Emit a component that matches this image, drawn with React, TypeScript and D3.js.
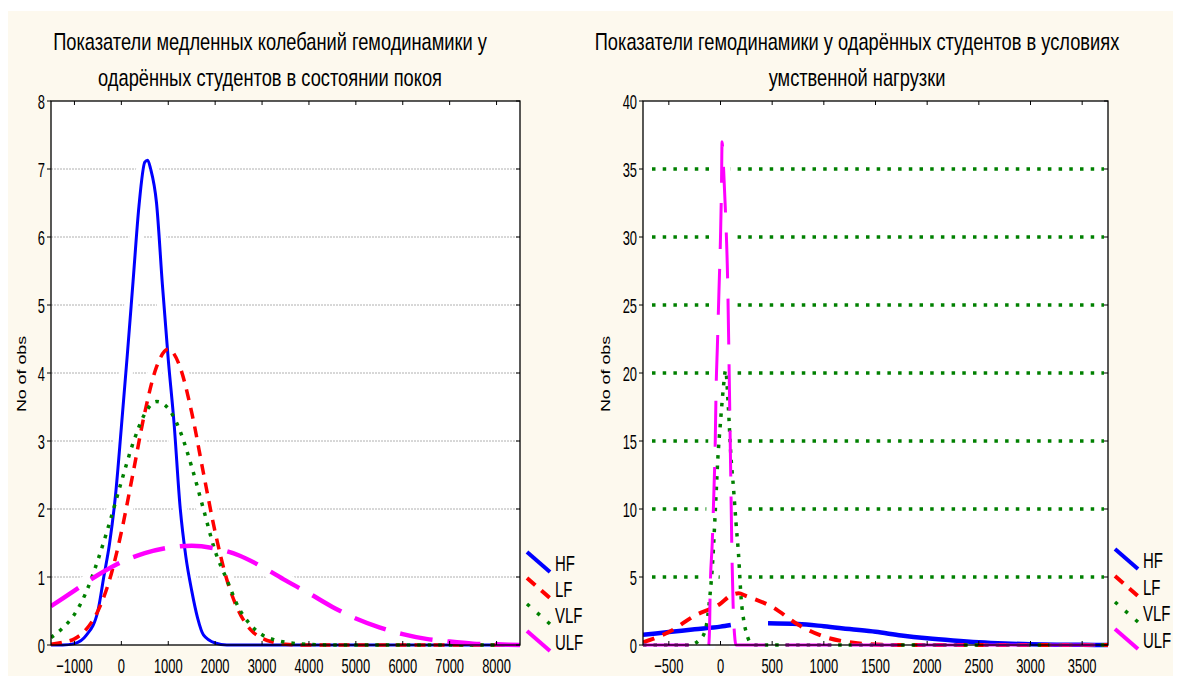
import { useRef, useEffect } from "react";
import * as d3 from "d3";

type Pt = [number, number | null];

// --- rest state (left chart) ---
const restHF: Pt[] = [
  [-1500, 0], [-1250, 0], [-1000, 0.02], [-750, 0.14], [-500, 0.5], [-375, 1.0], [-250, 1.5],
  [-125, 2.2], [0, 3.2], [125, 4.25], [250, 5.35], [375, 6.45], [500, 7.1], [560, 7.13],
  [625, 7.0], [750, 6.5], [875, 5.3], [1000, 4.2], [1125, 3.25], [1250, 2.05], [1375, 1.3],
  [1500, 0.8], [1625, 0.4], [1750, 0.15], [2000, 0.03], [2250, 0], [8500, 0],
];
const restLF: Pt[] = [
  [-1500, 0.01], [-1250, 0.04], [-1000, 0.09], [-750, 0.23], [-500, 0.5], [-250, 0.96],
  [0, 1.66], [250, 2.53], [500, 3.42], [750, 4.09], [1000, 4.35], [1250, 4.09], [1500, 3.42],
  [1750, 2.53], [2000, 1.66], [2250, 0.96], [2500, 0.5], [2750, 0.23], [3000, 0.1],
  [3250, 0.04], [3500, 0.01], [4000, 0], [8500, 0],
];
const restVLF: Pt[] = [
  [-1500, 0.11], [-1250, 0.25], [-1000, 0.45], [-750, 0.78], [-500, 1.25], [-250, 1.8],
  [0, 2.4], [250, 2.97], [500, 3.4], [750, 3.58], [1000, 3.48], [1250, 3.15], [1500, 2.62],
  [1750, 2.0], [2000, 1.38], [2250, 0.96], [2500, 0.55], [2750, 0.3], [3000, 0.15],
  [3250, 0.08], [3500, 0.04], [3750, 0.02], [4000, 0.01], [4500, 0], [8500, 0],
];
const restULF: Pt[] = [
  [-1500, 0.57], [-1000, 0.8], [-500, 1.03], [0, 1.22], [500, 1.35], [1000, 1.43],
  [1500, 1.46], [2000, 1.42], [2500, 1.32], [3000, 1.15], [3500, 0.95], [4000, 0.76],
  [4500, 0.56], [5000, 0.39], [5500, 0.26], [6000, 0.16], [6500, 0.09], [7000, 0.05],
  [7500, 0.02], [8000, 0.01], [8500, 0],
];

// --- mental load (right chart) ---
const loadHF: Pt[] = [
  [-750, 0.75], [-500, 0.95], [-250, 1.15], [0, 1.35], [100, 1.47], [150, null], [450, null],
  [460, 1.6], [750, 1.55], [1000, 1.38], [1250, 1.17], [1500, 0.97], [1750, 0.7], [2000, 0.49],
  [2250, 0.33], [2500, 0.2], [2750, 0.11], [3000, 0.05], [3250, 0.02], [3500, 0.01], [3750, 0],
];
const loadLF: Pt[] = [
  [-750, 0.2], [-500, 0.95], [-250, 2.15], [0, 3.05], [100, 3.65], [175, 3.8], [250, 3.6],
  [500, 2.8], [750, 1.5], [1000, 0.62], [1250, 0.2], [1500, 0.04], [1750, 0], [3750, 0],
];
const loadVLF: Pt[] = [
  [-750, 0], [-300, 0], [-200, 0.4], [-150, 1.0], [-100, 3.8], [-75, 6.2], [-50, 9.9],
  [-25, 13.8], [0, 16.4], [25, 18.7], [50, 20.2], [75, 17.6], [100, 14.0], [125, 11.6],
  [150, 9.0], [175, 6.6], [200, 3.4], [225, 1.8], [250, 0.9], [300, 0.1], [350, 0], [3750, 0],
];
const loadULF: Pt[] = [
  [-750, 0], [-115, 0], [-105, 1.5], [-100, 4], [-80, 7.5], [-65, 11], [-52, 14.5], [-42, 19],
  [-30, 22], [-15, 26], [0, 30], [10, 34], [15, 37], [30, 35], [50, 31.5], [70, 26.5],
  [80, 22], [90, 17], [100, 12], [110, 7], [122, 3], [140, 0.4], [150, 0], [3750, 0],
];

const restXTicks = [-1000, 0, 1000, 2000, 3000, 4000, 5000, 6000, 7000, 8000];
const restYTicks = [0, 1, 2, 3, 4, 5, 6, 7, 8];
const loadXTicks = [-500, 0, 500, 1000, 1500, 2000, 2500, 3000, 3500];
const loadYTicks = [0, 5, 10, 15, 20, 25, 30, 35, 40];

const seriesNames = ["HF", "LF", "VLF", "ULF"];
const seriesColors = ["#0000FF", "#FF0000", "#008000", "#FF00FF"];

const restTitle = ["Показатели медленных колебаний гемодинамики у", "одарённых студентов в состоянии покоя"];
const loadTitle = ["Показатели гемодинамики у одарённых студентов в условиях", "умственной нагрузки"];
const yLabel = "No of obs";

const FONT = "'Liberation Sans', Arial, sans-serif";

interface Panel {
  title: string[];
  titleX: number;
  left: number;
  right: number;
  top: number;
  bottom: number;
  xDomain: [number, number];
  yDomain: [number, number];
  xTicks: number[];
  yTicks: number[];
  series: Pt[][];
  widths: number[];
  dashes: (string | null)[];
  grid: "gray" | "green";
  legendX: number;
  legendBase: number[];
  yLabelX: number;
}

const panels: Panel[] = [
  {
    title: restTitle, titleX: 270,
    left: 51, right: 520, top: 101, bottom: 645,
    xDomain: [-1500, 8500], yDomain: [0, 8],
    xTicks: restXTicks, yTicks: restYTicks,
    series: [restHF, restLF, restVLF, restULF],
    widths: [3, 3.5, 3.5, 4.5],
    dashes: [null, "11 8", "3.5 7", "33 15"],
    grid: "gray",
    legendX: 527, legendBase: [571, 597, 623, 650],
    yLabelX: 26,
  },
  {
    title: loadTitle, titleX: 857,
    left: 643, right: 1108, top: 101, bottom: 645,
    xDomain: [-750, 3750], yDomain: [0, 40],
    xTicks: loadXTicks, yTicks: loadYTicks,
    series: [loadHF, loadLF, loadVLF, loadULF],
    widths: [4.5, 4, 3.5, 3],
    dashes: [null, "12 9", "3.5 7", "46 20"],
    grid: "green",
    legendX: 1115, legendBase: [568, 595, 621, 648],
    yLabelX: 610,
  },
];

function addText(g: any, x: number, y: number, s: string, size: number, sx: number, anchor = "middle") {
  return g.append("text")
    .attr("transform", `translate(${x},${y}) scale(${sx},1)`)
    .attr("text-anchor", anchor)
    .attr("fill", "#000")
    .style("font-family", FONT)
    .style("font-size", `${size}px`)
    .text(s);
}

export default function App() {
  const svgRef = useRef<SVGSVGElement>(null);

  useEffect(() => {
    if (!svgRef.current) return;
    const svg = d3.select(svgRef.current);
    svg.selectAll("*").remove();

    svg.append("rect").attr("width", 1181).attr("height", 680).attr("fill", "#fff");
    svg.append("rect").attr("x", 8).attr("y", 11).attr("width", 1165).attr("height", 665).attr("fill", "#FDF9EE");

    const titleNodes: any[] = [];

    panels.forEach((p, idx) => {
      const x = d3.scaleLinear().domain(p.xDomain).range([p.left, p.right]);
      const y = d3.scaleLinear().domain(p.yDomain).range([p.bottom, p.top]);
      const g = svg.append("g");

      g.append("rect")
        .attr("x", p.left).attr("y", p.top)
        .attr("width", p.right - p.left).attr("height", p.bottom - p.top)
        .attr("fill", "#fff");

      const clipId = `plotclip${idx}`;
      g.append("clipPath").attr("id", clipId)
        .append("rect")
        .attr("x", p.left).attr("y", p.top)
        .attr("width", p.right - p.left).attr("height", p.bottom - p.top + 4);

      // grid lines
      const gridVals = p.yTicks.filter((v) => v > p.yDomain[0] && v < p.yDomain[1]);
      if (p.grid === "gray") {
        g.selectAll(".grid").data(gridVals).join("line")
          .attr("x1", p.left).attr("x2", p.right)
          .attr("y1", (d) => y(d)).attr("y2", (d) => y(d))
          .attr("stroke", "#b0b0b0").attr("stroke-width", 1)
          .attr("stroke-dasharray", "2 1");
      } else {
        g.selectAll(".grid").data(gridVals).join("line")
          .attr("x1", p.left + 9).attr("x2", p.right - 4)
          .attr("y1", (d) => y(d)).attr("y2", (d) => y(d))
          .attr("stroke", "#008000").attr("stroke-width", 3.5)
          .attr("stroke-dasharray", "3.5 7.2");
      }

      const line = d3.line<Pt>()
        .defined((d) => d[1] != null)
        .x((d) => x(d[0]))
        .y((d) => y(d[1] as number))
        .curve(d3.curveMonotoneX);

      const plot = g.append("g").attr("clip-path", `url(#${clipId})`);

      // white halos, like the source software leaves behind each curve
      p.series.forEach((s) => {
        plot.append("path").datum(s)
          .attr("d", line as any)
          .attr("fill", "none")
          .attr("stroke", "#fff")
          .attr("stroke-width", 14)
          .attr("stroke-linejoin", "round");
      });

      // frame
      g.append("rect")
        .attr("x", p.left).attr("y", p.top)
        .attr("width", p.right - p.left).attr("height", p.bottom - p.top)
        .attr("fill", "none").attr("stroke", "#000").attr("stroke-width", 1.3);

      // ticks
      const tk = 4;
      p.xTicks.forEach((v) => {
        g.append("line").attr("x1", x(v)).attr("x2", x(v)).attr("y1", p.bottom).attr("y2", p.bottom - tk)
          .attr("stroke", "#000").attr("stroke-width", 1);
        g.append("line").attr("x1", x(v)).attr("x2", x(v)).attr("y1", p.top).attr("y2", p.top + tk)
          .attr("stroke", "#000").attr("stroke-width", 1);
        addText(g, x(v), 673, d3.format("d")(v), 21, 0.615, "middle");
      });
      p.yTicks.forEach((v) => {
        g.append("line").attr("x1", p.left - tk).attr("x2", p.left).attr("y1", y(v)).attr("y2", y(v))
          .attr("stroke", "#000").attr("stroke-width", 1);
        g.append("line").attr("x1", p.right - tk).attr("x2", p.right).attr("y1", y(v)).attr("y2", y(v))
          .attr("stroke", "#000").attr("stroke-width", 1);
        addText(g, p.left - 6, y(v) + 7.5, String(v), 21, 0.615, "end");
      });

      // curves
      p.series.forEach((s, i) => {
        const path = plot.append("path").datum(s)
          .attr("d", line as any)
          .attr("fill", "none")
          .attr("stroke", seriesColors[i])
          .attr("stroke-width", p.widths[i]);
        if (p.dashes[i]) path.attr("stroke-dasharray", p.dashes[i]);
      });

      // y label
      g.append("text")
        .attr("transform", `translate(${p.yLabelX},374) rotate(-90) scale(1.37,1)`)
        .attr("text-anchor", "middle")
        .style("font-family", FONT)
        .style("font-size", "13px")
        .attr("fill", "#000")
        .text(yLabel);

      // legend
      seriesNames.forEach((name, i) => {
        const b = p.legendBase[i];
        const sym = g.append("line")
          .attr("x1", p.legendX).attr("y1", b - 19)
          .attr("x2", p.legendX + 23).attr("y2", b + 1)
          .attr("stroke", seriesColors[i])
          .attr("stroke-width", i === 2 ? 3.5 : 4);
        if (i === 1) sym.attr("stroke-dasharray", "11 8");
        if (i === 2) sym.attr("stroke-dasharray", "3.5 10");
        addText(g, p.legendX + 28, b, name, 22, 0.68, "start");
      });

      // titles
      p.title.forEach((t, li) => {
        const node = addText(svg, p.titleX, li === 0 ? 50 : 86, t, 24, 1, "middle");
        titleNodes.push({ node, x: p.titleX, y: li === 0 ? 50 : 86 });
      });
    });

    // squeeze titles so the first line of the left title is 434px wide
    const first = titleNodes[0].node.node() as SVGTextElement;
    const len = first.getComputedTextLength();
    const k = len > 0 ? 434 / len : 0.8;
    titleNodes.forEach((t) => t.node.attr("transform", `translate(${t.x},${t.y}) scale(${k},1)`));
  }, []);

  return (
    <svg
      ref={svgRef}
      width={1181}
      height={680}
      style={{ position: "absolute", left: 0, top: 0, display: "block" }}
    />
  );
}
